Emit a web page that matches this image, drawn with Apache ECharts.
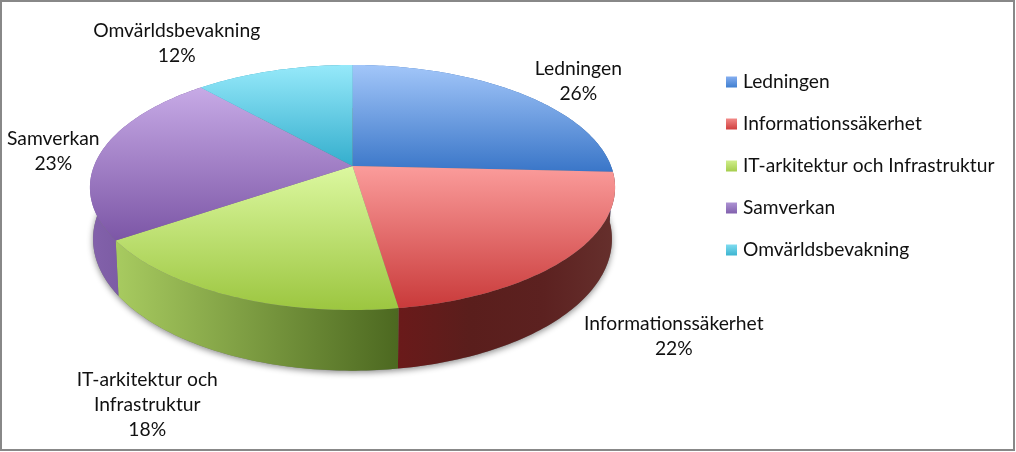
<!DOCTYPE html>
<html>
<head>
<meta charset="utf-8">
<style>html,body{margin:0;padding:0;background:#fff}#c{width:1016px;height:452px}</style>
<script src="https://cdn.jsdelivr.net/npm/echarts@6/dist/echarts.min.js"></script>
</head>
<body>
<div id="c"></div>
<script>
// Data
var categories = ['Ledningen', 'Informationssäkerhet', 'IT-arkitektur och Infrastruktur', 'Samverkan', 'Omvärldsbevakning'];
var labelNames = ['Ledningen', 'Informationssäkerhet', 'IT-arkitektur och\nInfrastruktur', 'Samverkan', 'Omvärldsbevakning'];
var percents = [26, 22, 18, 23, 12];          // printed labels
var sliceShares = [25.75, 21.9, 17.8, 23.0, 11.55]; // slice sizes as measured on the drawn pie

// Styles
var FONT = 'Lato, "Noto Sans", sans-serif';
var topColors = [['#a2c6f9', '#3a76c8'], ['#fb9c9b', '#c93a3a'], ['#dcf8a0', '#9cc640'], ['#c7aae6', '#7c56a6'], ['#96e9fa', '#34aecd']];
var sideColors = [['#3a76c8', '#2c5a9c'], ['#6a1a1a', '#5a1e1c', '#5c2120', '#66302d'], ['#a8cb60', '#4c6820'], ['#8362ab', '#6a4a92'], ['#34aecd', '#2a8ba5']];
var legendColors = [['#85aef0', '#3f7fd0'], ['#f28a88', '#d03f3e'], ['#d0ee8c', '#a5cd4c'], ['#ad93d3', '#8160ad'], ['#7fdcf0', '#3cb4d0']];

// Layout of the tilted pie: perspective projection of a unit disc
var CX = 352.5, KX = 258.5, A = 89.6, B = 166, C = -0.1755, DEPTH = 50, BOTTOM_SCALE = 0.988;
var labelOffsets = [[59, -12], [104, 80], [-82, 109], [-48, -1], [-97, -27]];

var total = sliceShares.reduce(function (s, v) { return s + v; }, 0);
function grad(cols, horizontal) {
  var stops = cols.map(function (c, i) { return { offset: i / (cols.length - 1), color: c }; });
  return new echarts.graphic.LinearGradient(0, 0, horizontal ? 1 : 0, horizontal ? 0 : 1, stops);
}
function project(deg, lower) {
  var t = deg * Math.PI / 180, u = Math.sin(t), v = -Math.cos(t), w = 1 + C * v;
  var x = KX * u / w * (lower ? BOTTOM_SCALE : 1);
  var y = (A * v + B) / w + (lower ? DEPTH / w : 0);
  return [CX + x, y];
}
function arc(from, to, lower) {
  var pts = [], n = Math.max(2, Math.ceil(Math.abs(to - from)));
  for (var i = 0; i <= n; i++) pts.push(project(from + (to - from) * i / n, lower));
  return pts;
}
function sliceRenderer(index, startDeg, endDeg) {
  return function () {
    var mid = (startDeg + endDeg) / 2, rim = project(mid, false), off = labelOffsets[index];
    return {
      type: 'group',
      children: [
        { type: 'polygon', z2: 5, silent: true,
          shape: { points: arc(startDeg, endDeg, false).concat(arc(endDeg, startDeg, true)) },
          style: { fill: grad(sideColors[index], true) } },
        { type: 'polygon', z2: 10, silent: true,
          shape: { points: [[CX, B]].concat(arc(startDeg, endDeg, false)) },
          style: { fill: grad(topColors[index], false) } },
        { type: 'text', z2: 20, silent: true, x: rim[0] + off[0], y: rim[1] + off[1],
          style: { text: labelNames[index] + '\n' + percents[index] + '%', align: 'center', verticalAlign: 'middle',
                   font: '19.3px ' + FONT, lineHeight: 25, fill: '#111' } }
      ]
    };
  };
}
var series = [{
  name: 'rim', type: 'custom', coordinateSystem: 'none', z: 1, silent: true, data: [[total]],
  renderItem: function () {
    return { type: 'polygon', silent: true, shape: { points: arc(0, 360, true) },
      style: { fill: '#777', shadowBlur: 6, shadowColor: 'rgba(0,0,0,0.45)', shadowOffsetY: 2 } };
  }
}];
var acc = 0;
sliceShares.forEach(function (p, i) {
  var s = acc / total * 360; acc += p; var e = acc / total * 360;
  series.push({ name: categories[i], type: 'custom', coordinateSystem: 'none', z: 2, silent: true,
    itemStyle: { color: topColors[i][1] }, data: [[p]], renderItem: sliceRenderer(i, s, e) });
});

var chart = echarts.init(document.getElementById('c'), null, { renderer: 'canvas' });
chart.setOption({
  animation: false,
  backgroundColor: '#fff',
  legend: {
    orient: 'vertical', left: 726, top: 71, itemWidth: 11, itemHeight: 11, itemGap: 20, padding: 0, selectedMode: false,
    textStyle: { fontFamily: FONT, fontSize: 19.2, color: '#111', height: 22, lineHeight: 22, padding: [0, 0, 0, 1] },
    data: categories.map(function (n, i) {
      return { name: n, icon: 'rect', itemStyle: { color: grad(legendColors[i], false) } };
    })
  },
  graphic: [{ type: 'rect', silent: true, z: 100,
    shape: { x: 1, y: 1, width: 1013, height: 449 },
    style: { fill: 'transparent', stroke: '#888', lineWidth: 2 } }],
  series: series
});
</script>
</body>
</html>
